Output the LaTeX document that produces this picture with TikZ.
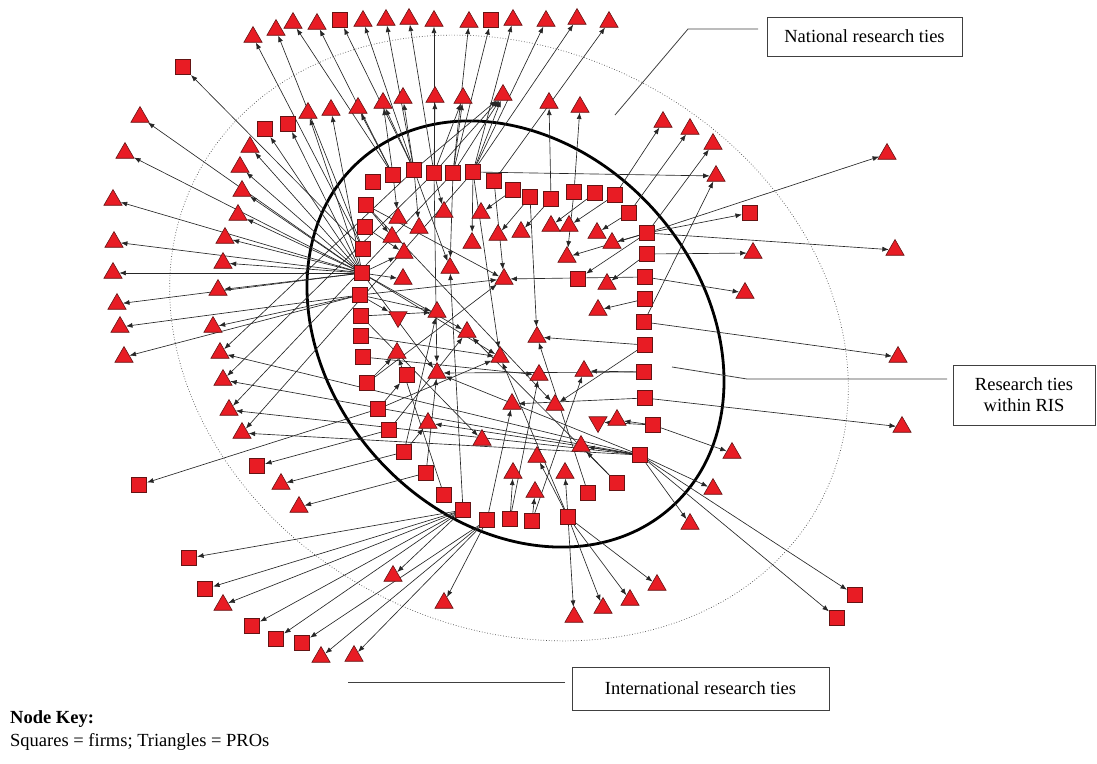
\documentclass[tikz,border=0pt]{standalone}
\usepackage{fontspec}
\setmainfont{Liberation Serif}
\usetikzlibrary{shapes.geometric,arrows.meta}
\pgfdeclarelayer{bg}
\pgfsetlayers{bg,main}
\definecolor{nodered}{RGB}{232,28,36}
\definecolor{nodeedge}{RGB}{100,20,20}
\begin{document}
\begin{tikzpicture}[x=1pt,y=-1pt,
  sq/.style={draw=nodeedge, fill=nodered, line width=0.6pt, minimum size=15.5pt, inner sep=0pt},
  tri/.style={regular polygon, regular polygon sides=3, draw=nodeedge, fill=nodered, line width=0.6pt, minimum size=21pt, inner sep=0pt},
  itri/.style={tri, shape border rotate=180},
  tie/.style={draw=black!85, line width=0.65pt, -{Latex[length=6.5pt,width=5pt]}},
  lbox/.style={draw=black!75, line width=0.9pt, fill=white, font=\fontsize{18.5}{21}\selectfont, align=center, inner sep=0pt},
  leader/.style={draw=black!75, line width=0.8pt},
  txt/.style={font=\fontsize{18.5}{21}\selectfont, anchor=west, inner sep=0pt}]
\useasboundingbox (0,0) rectangle (1097,763);
% squares (firms)
\foreach \n/\x/\y in {1/183/67,2/265/129,3/288/124,4/340/20,5/491/20,6/373/182,7/366/205,8/365/227,9/363/249,10/362/273,
 11/360/295,12/361/316,13/361/336,14/363/357,15/367/383,16/378/409,17/389/430,18/404/452,19/426/473,20/444/495,
 21/463/510,22/487/520,23/510/519,24/532/521,25/568/517,26/588/493,27/617/483,28/640/455,29/653/425,30/645/398,
 31/644/372,32/645/345,33/644/322,34/645/299,35/645/277,36/647/254,37/647/233,38/629/213,39/615/195,40/595/193,
 41/574/192,42/551/199,43/530/197,44/513/190,45/494/181,46/473/172,47/453/173,48/434/173,49/414/170,50/393/175,
 51/750/213,52/578/279,53/407/375,54/139/485,55/257/466,56/189/558,57/205/589,58/252/626,59/276/639,60/302/643,
 61/855/595,62/837/618}
  \node[sq] (s\n) at (\x,\y) {};
% triangles (PROs)
\foreach \n/\x/\y in {1/253/37,2/276/30,3/293/23,4/317/24,5/363/21,6/386/20,7/409/19,8/434/21,9/469/22,10/513/20,
 11/546/21,12/577/19,13/609/22,14/140/117,15/125/153,16/113/200,17/114/242,18/113/273,19/117/304,20/120/327,
 21/124/357,22/250/147,23/240/167,24/242/191,25/238/215,26/225/238,27/223/263,28/218/290,29/213/327,30/220/353,
 31/223/380,32/229/410,33/242/433,34/308/113,35/331/110,36/358/108,37/383/103,38/403/98,39/435/97,40/463/98,
 41/503/95,42/549/103,43/580/107,44/663/122,45/690/129,46/713/144,47/716/176,48/887/154,49/895/250,50/753/253,
 51/745/293,52/898/357,53/902/427,54/732/453,55/713/489,56/690/524,57/657/585,58/630/600,59/603/608,60/574/617,
 61/444/603,62/393/576,63/354/656,64/321/657,65/223/605,66/281/484,67/299/507,68/398/218,69/444/212,70/481/213,
 71/419/228,72/392/237,73/404/253,74/403/279,75/472/243,76/498/235,77/521/232,78/551/226,79/569/226,80/597/233,
 81/612/243,82/567/257,83/450/268,84/504/279,85/607/284,86/598/310,88/437/312,89/467/332,90/537/337,
 91/397/353,92/500/357,93/437/373,94/539/375,95/584/371,96/512/404,97/555/405,98/428/423,100/617/420,
 101/482/440,102/581/446,103/537/457,104/513/473,105/535/492,106/565/473}
  \node[tri] (t\n) at (\x,\y) {};
\node[itri] (t87) at (398,317) {};
\node[itri] (t99) at (598,422) {};
% labels
\node[lbox, minimum width=195pt, minimum height=39pt] (nat) at (864.5,36.5) {National research ties};
\node[lbox, minimum width=142pt, minimum height=60pt] (ris) at (1024,395) {Research ties\\within RIS};
\node[lbox, minimum width=257pt, minimum height=43pt] (int) at (700.5,688.5) {International research ties};
\node[txt, font=\fontsize{18.5}{21}\selectfont\bfseries] (key) at (10,719) {Node Key:};
\node[txt] (keytxt) at (10,742) {Squares = firms; Triangles = PROs};
\coordinate (n1) at (758,29); \coordinate (n2) at (688,29); \coordinate (n3) at (615,115);
\coordinate (r1) at (947,379); \coordinate (r2) at (747,379); \coordinate (r3) at (672,367);
\coordinate (i1) at (565,682); \coordinate (i2) at (348,682);
\begin{pgfonlayer}{bg}
\draw[black!70, dotted, line width=0.7pt, rotate around={-27.6:(509,338)}] (509,338) ellipse [x radius=352pt, y radius=288pt];
\draw[black, line width=2.8pt, rotate around={-47.8:(515.5,334)}] (515.5,334) ellipse [x radius=233pt, y radius=186pt];
\draw[leader] (n1) -- (n2) -- (n3);
\draw[leader] (r1) -- (r2) -- (r3);
\draw[leader] (i1) -- (i2);
\foreach \a/\b in {s10/t14,s10/t15,s10/t16,s10/t17,s10/t18,s10/t19,s10/t22,s10/t23,s10/t24,s10/t25,s10/t26,s10/t27,s10/t28,
 s10/s2,s10/s3,s10/t34,s10/t35,s10/t73,s10/t74,s10/t93,s10/t89,s10/t92,
 s9/s1,s9/t1,s9/t2,
 s11/t20,s11/t21,s11/t29,s11/t84,s11/t88,s11/t87,
 s12/t88,s12/t101,s13/t92,s14/t94,s15/t84,s15/t91,s16/s54,s16/t92,s16/s53,s17/s55,s17/t89,
 s18/t66,s18/t88,s18/t98,s19/t67,s19/t93,s20/t91,
 s21/s56,s21/s57,s21/t65,s21/s58,s21/s59,s21/t62,s21/t83,
 s22/s60,s22/t64,s22/t63,s22/t61,s22/t96,
 s23/t104,s23/t94,s24/t105,s24/t95,
 s25/t60,s25/t59,s25/t58,s25/t57,s25/t106,s25/t103,s25/t92,
 s26/t90,s27/t89,s27/t102,
 s28/t55,s28/t56,s28/s61,s28/s62,s28/t30,s28/t31,s28/t32,s28/t33,s28/t93,s28/t102,s28/t98,
 s29/t54,s29/t100,s29/t99,s30/t53,s30/t96,s31/t93,s31/t95,s32/t90,s32/t97,s33/t52,s33/t47,s34/t86,
 s35/t51,s35/t84,s36/t50,s36/t85,
 s37/t49,s37/t48,s37/s51,s37/t46,s37/t81,s37/t82,s37/s52,
 s38/t45,s38/t80,s39/t44,s39/t79,s40/t78,s41/t43,s41/t82,s42/t42,s42/t77,s43/t90,s43/t76,s44/t70,
 s45/t13,s45/t84,
 s46/t10,s46/t11,s46/t12,s46/t41,s46/t47,s46/t92,s46/t75,s46/t33,
 s47/t9,s47/s5,s47/t40,s47/t41,s47/t83,s47/t32,
 s48/t8,s48/t7,s48/t39,s48/t40,s48/t41,s48/t69,s48/t93,s48/t31,
 s49/s4,s49/t5,s49/t6,s49/t37,s49/t38,s49/t41,s49/t83,s49/t71,s49/t30,
 s50/t3,s50/t4,s50/t36,s50/t37,s50/t68,
 s7/t72,s7/t84,s7/t97,s8/t73}
  \draw[tie] (\a) -- (\b);
\end{pgfonlayer}
\end{tikzpicture}
\end{document}
